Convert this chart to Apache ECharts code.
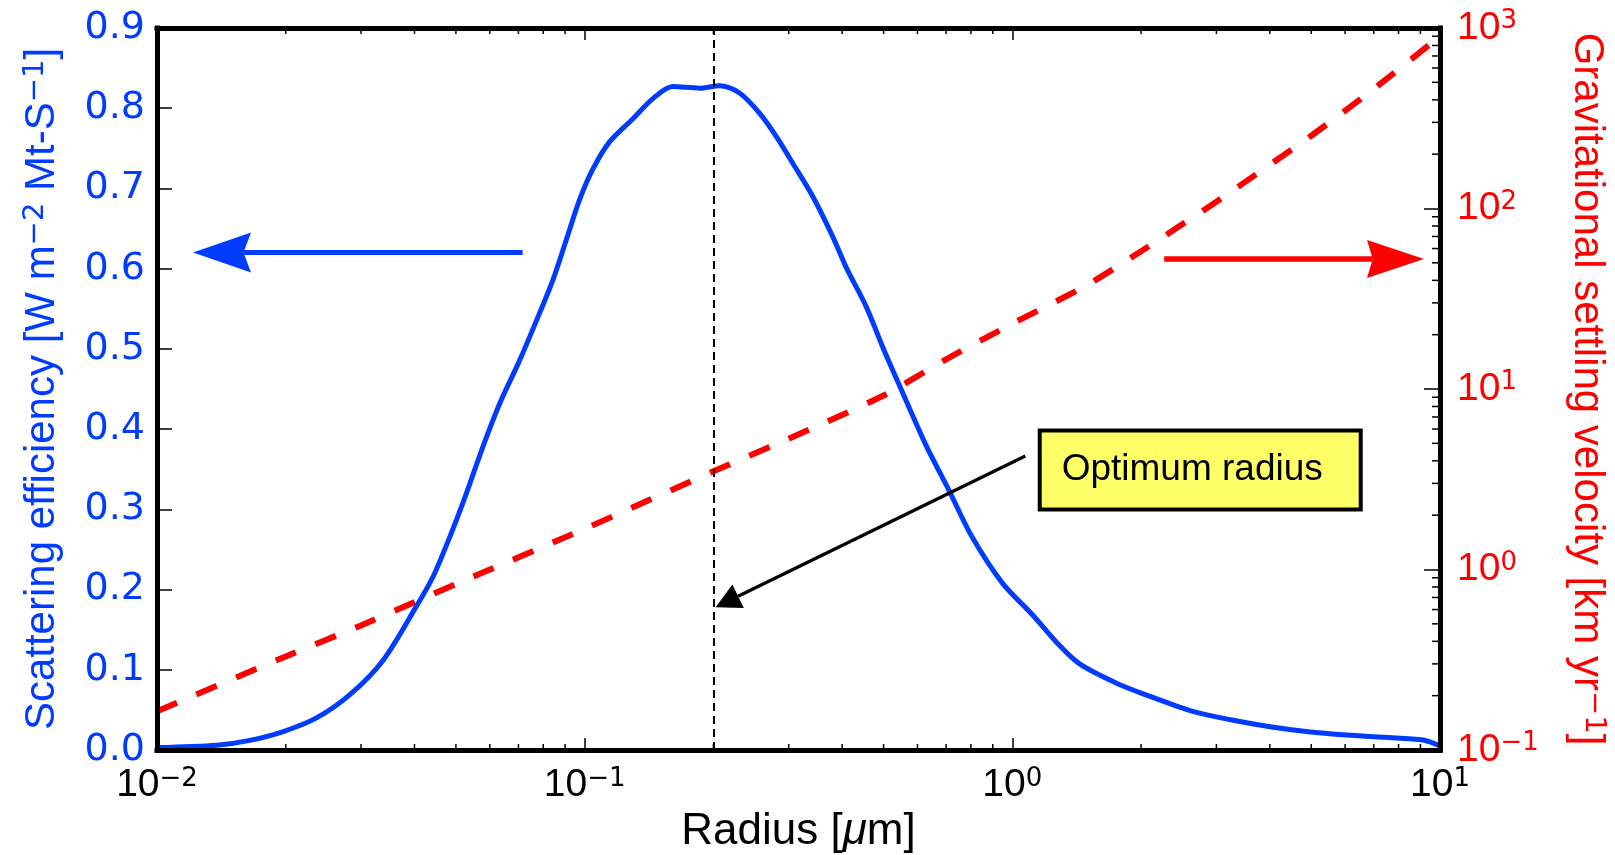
<!DOCTYPE html>
<html>
<head>
<meta charset="utf-8">
<script src="https://cdn.jsdelivr.net/npm/echarts@6/dist/echarts.min.js"></script>
<style>
html,body{margin:0;padding:0;background:#fff;}
#chart{width:1615px;height:855px;}
</style>
</head>
<body>
<div id="chart"></div>
<script>
// ---- data ----
const radius = [0.01, 0.01379, 0.01649, 0.01973, 0.0236, 0.02825, 0.0338, 0.0404, 0.0442, 0.0484, 0.0529, 0.0578, 0.0633, 0.0705, 0.0785, 0.0843, 0.0906, 0.0973, 0.1045, 0.1143, 0.1297, 0.1444, 0.1608, 0.1857, 0.2066, 0.2301, 0.2563, 0.2805, 0.3069, 0.3415, 0.3802, 0.4085, 0.455, 0.5006, 0.544, 0.628, 0.7106, 0.8041, 0.948, 1.117, 1.265, 1.431, 1.759, 2.161, 2.655, 3.262, 4.007, 4.92, 6.05, 7.43, 9.13, 10];
const scattering = [0.003, 0.006, 0.012, 0.023, 0.040, 0.069, 0.112, 0.179, 0.216, 0.266, 0.320, 0.378, 0.432, 0.486, 0.545, 0.586, 0.636, 0.686, 0.724, 0.758, 0.787, 0.812, 0.827, 0.825, 0.828, 0.819, 0.794, 0.765, 0.731, 0.690, 0.640, 0.602, 0.553, 0.499, 0.455, 0.380, 0.324, 0.266, 0.208, 0.168, 0.135, 0.108, 0.083, 0.0644, 0.0478, 0.0374, 0.029, 0.0228, 0.0187, 0.0158, 0.0125, 0.005];
const settleRadius = [0.01, 0.02, 0.03, 0.05, 0.1, 0.2, 0.3, 0.5, 0.7, 1.0, 1.5, 2.0, 3.0, 5.0, 7.0, 10];
const settleVelocity = [0.164, 0.33, 0.49, 0.83, 1.68, 3.5, 5.3, 9.2, 14.6, 23.0, 37.8, 58, 109, 253, 459, 900];
const optimumRadius = 0.2;
const xMinorTicks = [0.02,0.03,0.04,0.05,0.06,0.07,0.08,0.09,0.2,0.3,0.4,0.5,0.6,0.7,0.8,0.9,2,3,4,5,6,7,8,9];
const yRightMinorTicks = [0.2,0.3,0.4,0.5,0.6,0.7,0.8,0.9,2,3,4,5,6,7,8,9,20,30,40,50,60,70,80,90,200,300,400,500,600,700,800,900];
// annotation arrows in data coordinates: [fromX, fromY, toX, toY]
const arrowLeftAxis = [0.0716, 0.62, 0.01214, 0.62];
const arrowRightAxis = [2.265, 52.5, 9.175, 52.5];
const arrowOptimum = [1.0725, 0.3665, 0.2024, 0.178];
const noteText = 'Optimum radius';
const notePos = [2.75, 0.349];

const BLUE = '#003cff';
const RED = '#ff0000';
const FONT = 'Liberation Sans, Arial, sans-serif';
const DJV = 'DejaVu Sans, sans-serif';

function supLabel(v) {
  const e = Math.round(Math.log10(v));
  return '{b|10}{s|' + (e < 0 ? '\u2212' + (-e) : String(e)) + '}';
}
function supRich(color) {
  return {
    b: {fontSize: 39, color: color, fontFamily: FONT},
    s: {fontSize: 26, color: color, fontFamily: DJV, verticalAlign: 'top'}
  };
}

function arrowSeries(pts, yIdx, color, lw, headLen, headHalf, notch, z) {
  return {
    type: 'custom', xAxisIndex: 0, yAxisIndex: yIdx, z: z, silent: true,
    data: [pts],
    encode: {x: [0, 2], y: [1, 3]},
    renderItem: function (params, api) {
      const p1 = api.coord([api.value(0), api.value(1)]);
      const p2 = api.coord([api.value(2), api.value(3)]);
      let dx = p2[0] - p1[0], dy = p2[1] - p1[1];
      const len = Math.sqrt(dx * dx + dy * dy);
      dx /= len; dy /= len;
      const nx = -dy, ny = dx;
      const bx = p2[0] - headLen * dx, by = p2[1] - headLen * dy;
      const mx = p2[0] - notch * headLen * dx, my = p2[1] - notch * headLen * dy;
      return {
        type: 'group',
        children: [
          {type: 'line', shape: {x1: p1[0], y1: p1[1], x2: mx, y2: my},
           style: {stroke: color, lineWidth: lw}},
          {type: 'polygon', shape: {points: [
            [p2[0], p2[1]], [bx + headHalf * nx, by + headHalf * ny], [mx, my], [bx - headHalf * nx, by - headHalf * ny]
          ]}, style: {fill: color}}
        ]
      };
    }
  };
}

const chart = echarts.init(document.getElementById('chart'), null, {renderer: 'canvas'});

const axisLineStyle = {show: true, lineStyle: {color: '#000', width: 5, cap: 'square'}};

const option = {
  animation: false,
  backgroundColor: '#fff',
  grid: {left: 157, right: 175, top: 28, bottom: 105, containLabel: false, outerBoundsMode: 'none'},
  xAxis: [
    {
      type: 'log', logBase: 10, min: 0.01, max: 10, position: 'bottom', z: 10,
      name: '{a|Radius [}{mu|\u03bc}{a|m]}', nameLocation: 'middle', nameGap: 56,
      nameTextStyle: {
        fontSize: 44, color: '#000', fontFamily: FONT,
        rich: {
          a: {fontSize: 44, color: '#000', fontFamily: FONT},
          mu: {fontSize: 44, color: '#000', fontFamily: FONT, fontStyle: 'italic'}
        }
      },
      axisLine: axisLineStyle,
      axisTick: {show: true, inside: true, length: 12, lineStyle: {color: '#000', width: 1.5}},
      axisLabel: {show: true, margin: 16, formatter: supLabel, rich: supRich('#000'), showMinLabel: true, showMaxLabel: true},
      splitLine: {show: false}, minorTick: {show: false}
    },
    {
      type: 'log', logBase: 10, min: 0.01, max: 10, position: 'top', z: 10,
      axisLine: axisLineStyle,
      axisTick: {show: true, inside: true, length: 12, lineStyle: {color: '#000', width: 1.5}},
      axisLabel: {show: false},
      splitLine: {show: false}
    }
  ],
  yAxis: [
    {
      type: 'value', min: 0, max: 0.9, interval: 0.1, position: 'left', z: 10,
      name: 'Scattering efficiency [W m{s|\u22122} Mt-S{s|\u22121}]',
      nameLocation: 'middle', nameGap: 94, nameRotate: 90,
      nameTextStyle: {
        fontSize: 42, color: BLUE, fontFamily: FONT,
        rich: {s: {fontSize: 29, color: BLUE, fontFamily: DJV, verticalAlign: 'top'}}
      },
      axisLine: axisLineStyle,
      axisTick: {show: true, inside: true, length: 15, lineStyle: {color: '#000', width: 1.5}},
      axisLabel: {show: true, margin: 12, color: BLUE, fontSize: 38, fontFamily: DJV,
        formatter: function (v) { return v.toFixed(1); }},
      splitLine: {show: false}
    },
    {
      type: 'log', logBase: 10, min: 0.1, max: 1000, position: 'right', z: 10,
      name: 'Gravitational settling velocity [km yr{s|\u22121}]',
      nameLocation: 'middle', nameGap: 126, nameRotate: -90,
      nameTextStyle: {
        fontSize: 42, color: RED, fontFamily: FONT,
        rich: {s: {fontSize: 29, color: RED, fontFamily: DJV, verticalAlign: 'top'}}
      },
      axisLine: axisLineStyle,
      axisTick: {show: true, inside: true, length: 16, lineStyle: {color: '#000', width: 1.5}},
      axisLabel: {show: true, margin: 17, formatter: supLabel, rich: supRich(RED)},
      splitLine: {show: false}
    }
  ],
  series: [
    {
      name: 'Scattering efficiency', type: 'line', xAxisIndex: 0, yAxisIndex: 0, z: 3,
      data: radius.map((r, i) => [r, scattering[i]]),
      showSymbol: false, smooth: 0.3,
      lineStyle: {color: BLUE, width: 5},
      markLine: {
        silent: true, symbol: ['none', 'none'], label: {show: false},
        lineStyle: {color: '#000', width: 2, type: [8, 5]},
        data: [{xAxis: optimumRadius}]
      },
      markPoint: {
        silent: true, symbol: 'circle', symbolSize: 1,
        itemStyle: {color: 'rgba(0,0,0,0)'},
        label: {show: true, position: 'inside', formatter: '{t|' + noteText + '}',
          color: '#000', fontSize: 36, fontFamily: FONT,
          width: 317, height: 75, lineHeight: 75, align: 'center', verticalAlign: 'middle',
          backgroundColor: '#ffff66', borderColor: '#000', borderWidth: 4, padding: 0,
          rich: {t: {color: '#000', fontSize: 37, fontFamily: FONT, padding: [0, 16, 0, 0]}}},
        data: [{coord: notePos}],
        z: 20
      }
    },
    {
      name: 'Gravitational settling velocity', type: 'line', xAxisIndex: 0, yAxisIndex: 1, z: 2,
      data: settleRadius.map((r, i) => [r, settleVelocity[i]]),
      showSymbol: false, smooth: 0.2,
      lineStyle: {color: RED, width: 6, type: [22, 21]}
    },
    {
      type: 'custom', xAxisIndex: 0, yAxisIndex: 0, z: 11, silent: true,
      data: xMinorTicks.map(v => [v, 0]),
      renderItem: function (params, api) {
        const cs = params.coordSys;
        const px = api.coord([api.value(0), 0])[0];
        const bottom = cs.y + cs.height, top = cs.y;
        return {type: 'group', children: [
          {type: 'line', shape: {x1: px, y1: bottom, x2: px, y2: bottom - 6}, style: {stroke: '#000', lineWidth: 1.5}},
          {type: 'line', shape: {x1: px, y1: top, x2: px, y2: top + 6}, style: {stroke: '#000', lineWidth: 1.5}}
        ]};
      }
    },
    {
      type: 'custom', xAxisIndex: 0, yAxisIndex: 1, z: 11, silent: true,
      data: yRightMinorTicks.map(v => [1, v]),
      renderItem: function (params, api) {
        const cs = params.coordSys;
        const py = api.coord([1, api.value(1)])[1];
        const right = cs.x + cs.width;
        return {type: 'line', shape: {x1: right, y1: py, x2: right - 8, y2: py}, style: {stroke: '#000', lineWidth: 1.5}};
      }
    },
    arrowSeries(arrowLeftAxis, 0, BLUE, 5, 58, 20, 0.87, 12),
    arrowSeries(arrowRightAxis, 1, RED, 5.5, 57, 19, 0.9, 12),
    arrowSeries(arrowOptimum, 0, '#000', 3.3, 25, 13, 1.0, 12)
  ]
};
chart.setOption(option);
</script>
</body>
</html>
